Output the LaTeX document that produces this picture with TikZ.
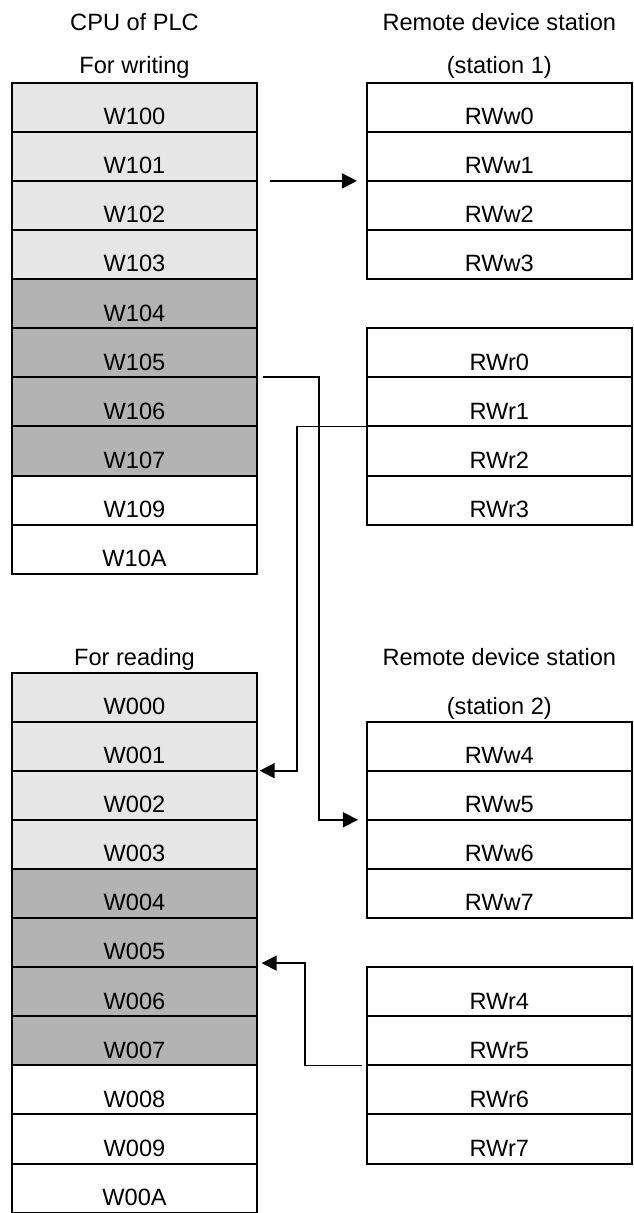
\documentclass[tikz,border=0pt]{standalone}
\usepackage{fontspec}
\setmainfont{Liberation Sans}
\usepackage{xcolor}
\usepackage{tikz}
\usetikzlibrary{arrows.meta, positioning}

\definecolor{cellLight}{RGB}{230,230,230}
\definecolor{cellDark}{RGB}{179,179,179}

\begin{document}
\begin{tikzpicture}[
      x=0.5pt, y=-0.5pt,
      font=\fontsize{11.8}{14}\selectfont,
      cell/.style={draw, line width=1pt, outer sep=0pt, inner sep=0pt, minimum width=122.2pt, minimum height=24.55pt, text height=17.4pt, text depth=0pt},
      rcell/.style={cell, minimum width=132.35pt},
      litecell/.style={cell, fill=cellLight},
      darkcell/.style={cell, fill=cellDark},
      head/.style={anchor=base, inner sep=0pt},
      arr/.style={-{Triangle[length=7.5pt, width=7.5pt]}, line width=0.8pt}
    ]
    \useasboundingbox (0,0) rectangle (633,1213);

    % CPU side, writing area
    \node[head] (cpu) at (134.5,30.7) {CPU of PLC};
    \node[head] (wrt) at (134.5,74) {For writing};
    \node[litecell] (w100) at (134.5,107.25) {W100};
    \node[litecell, below=0pt of w100] (w101) {W101};
    \node[litecell, below=0pt of w101] (w102) {W102};
    \node[litecell, below=0pt of w102] (w103) {W103};
    \node[darkcell, below=0pt of w103] (w104) {W104};
    \node[darkcell, below=0pt of w104] (w105) {W105};
    \node[darkcell, below=0pt of w105] (w106) {W106};
    \node[darkcell, below=0pt of w106] (w107) {W107};
    \node[cell, below=0pt of w107] (w109) {W109};
    \node[cell, below=0pt of w109] (w10a) {W10A};

    % station 1
    \node[head] (st1a) at (499.3,30.7) {Remote device station};
    \node[head] (st1b) at (499.3,74) {(station 1)};
    \node[rcell] (rww0) at (499.3,107.25) {RWw0};
    \node[rcell, below=0pt of rww0] (rww1) {RWw1};
    \node[rcell, below=0pt of rww1] (rww2) {RWw2};
    \node[rcell, below=0pt of rww2] (rww3) {RWw3};
    \node[rcell] (rwr0) at (499.3,352.75) {RWr0};
    \node[rcell, below=0pt of rwr0] (rwr1) {RWr1};
    \node[rcell, below=0pt of rwr1] (rwr2) {RWr2};
    \node[rcell, below=0pt of rwr2] (rwr3) {RWr3};

    % CPU side, reading area
    \node[head] (rd) at (134.5,665.5) {For reading};
    \node[litecell] (w000) at (134.5,697.05) {W000};
    \node[litecell, below=0pt of w000] (w001) {W001};
    \node[litecell, below=0pt of w001] (w002) {W002};
    \node[litecell, below=0pt of w002] (w003) {W003};
    \node[darkcell, below=0pt of w003] (w004) {W004};
    \node[darkcell, below=0pt of w004] (w005) {W005};
    \node[darkcell, below=0pt of w005] (w006) {W006};
    \node[darkcell, below=0pt of w006] (w007) {W007};
    \node[cell, below=0pt of w007] (w008) {W008};
    \node[cell, below=0pt of w008] (w009) {W009};
    \node[cell, below=0pt of w009] (w00a) {W00A};

    % station 2
    \node[head] (st2a) at (499.3,665.5) {Remote device station};
    \node[head] (st2b) at (499.3,714.5) {(station 2)};
    \node[rcell] (rww4) at (499.3,746.15) {RWw4};
    \node[rcell, below=0pt of rww4] (rww5) {RWw5};
    \node[rcell, below=0pt of rww5] (rww6) {RWw6};
    \node[rcell, below=0pt of rww6] (rww7) {RWw7};
    \node[rcell] (rwr4) at (499.3,991.65) {RWr4};
    \node[rcell, below=0pt of rwr4] (rwr5) {RWr5};
    \node[rcell, below=0pt of rwr5] (rwr6) {RWr6};
    \node[rcell, below=0pt of rwr6] (rwr7) {RWr7};

    % links
    \draw[arr, shorten <=6.5pt, shorten >=5pt] (w101.south east) -- (rww1.south west);
    \draw[arr, shorten <=3pt, shorten >=4.5pt] (w105.south east) -- ++(62,0) |- (rww5.south west);
    \draw[arr, shorten >=1.5pt] (rwr1.south west) -- ++(-70,0) |- (w001.south east);
    \draw[arr, shorten <=2.5pt, shorten >=2.5pt] (rwr5.south west) -- ++(-62,0) |- ([yshift=2pt]w005.south east);
  \end{tikzpicture}
\end{document}
